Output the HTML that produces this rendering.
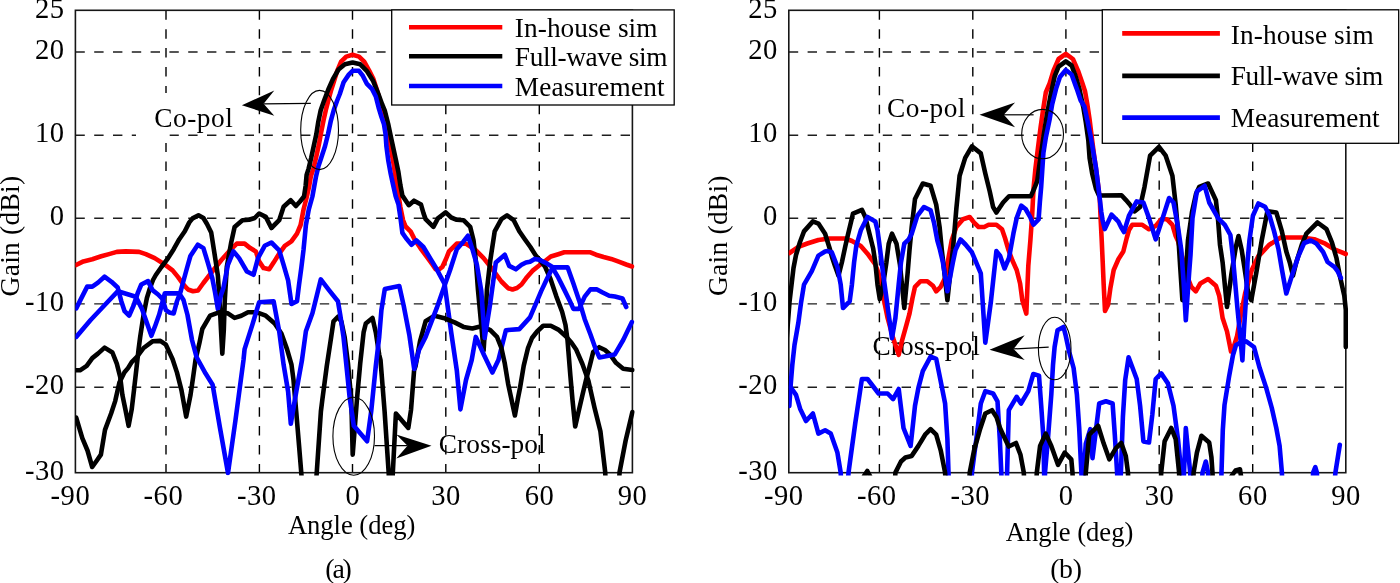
<!DOCTYPE html>
<html><head><meta charset="utf-8"><style>
html,body{margin:0;padding:0;background:#fff;width:1400px;height:583px;overflow:hidden}
svg{display:block;will-change:transform}
</style></head><body>
<svg width="1400" height="583" viewBox="0 0 1400 583" font-family="Liberation Serif, serif">
<style>
.g{stroke:#1e1e1e;stroke-width:1.4;stroke-dasharray:9.4 9.4;fill:none}
.gv{stroke:#000;stroke-width:1.4;stroke-dasharray:9.45 9.45;fill:none}
.f{stroke:#161616;stroke-width:1.6;fill:none}
.c{fill:none;stroke-width:4.6;stroke-linejoin:round;stroke-linecap:round}
.e{fill:none;stroke:#000;stroke-width:1.1}
text{fill:#000}
</style>
<defs><clipPath id="clipa"><rect x="75.4" y="10.3" width="559.3" height="465.2"/></clipPath>
<clipPath id="clipb"><rect x="788.8" y="10.3" width="559.3" height="465.2"/></clipPath></defs>
<rect width="1400" height="583" fill="#fff"/>
<!-- plot a -->
<line x1="166.0" y1="10.3" x2="166.0" y2="472.7" class="gv"/>
<line x1="259.4" y1="10.3" x2="259.4" y2="472.7" class="gv"/>
<line x1="352.5" y1="10.3" x2="352.5" y2="472.7" class="gv"/>
<line x1="445.8" y1="10.3" x2="445.8" y2="472.7" class="gv"/>
<line x1="539.3" y1="10.3" x2="539.3" y2="472.7" class="gv"/>
<line x1="75.4" y1="52.0" x2="632.4" y2="52.0" class="g"/>
<line x1="75.4" y1="135.2" x2="632.4" y2="135.2" class="g"/>
<line x1="75.4" y1="218.3" x2="632.4" y2="218.3" class="g"/>
<line x1="75.4" y1="303.9" x2="632.4" y2="303.9" class="g"/>
<line x1="75.4" y1="387.3" x2="632.4" y2="387.3" class="g"/>
<rect x="136" y="93" width="33.5" height="50" fill="#fff"/>
<text x="154.2" y="127.3" font-size="27.3" textLength="78.6" lengthAdjust="spacing" >Co-pol</text>
<rect x="75.4" y="10.3" width="557.0" height="462.4" class="f"/>
<g clip-path="url(#clipa)">
<polyline points="75.6,265.2 83.4,261.4 92.3,259.2 101.2,256.3 109.0,254.1 116.8,251.9 125.7,251.4 139.1,251.9 145.8,254.1 154.7,258.1 163.6,263.7 172.6,270.4 178.1,277.1 183.7,284.9 188.0,289.5 193.0,291.2 198.0,290.5 203.4,283.0 212.3,271.5 221.2,260.3 229.0,251.4 236.8,243.6 244.6,243.6 250.2,248.1 255.8,251.4 259.1,261.4 263.6,268.1 269.2,269.3 273.6,262.6 279.2,253.6 284.8,245.8 291.4,241.4 297.0,233.6 300.6,225.0 303.6,209.3 306.5,198.0 309.0,187.0 310.9,176.0 313.5,168.6 316.3,156.6 318.9,144.6 321.0,133.0 323.6,120.0 326.2,108.6 328.6,99.5 331.2,90.0 333.6,82.6 337.2,70.8 341.1,61.7 346.2,56.6 352.6,54.8 359.0,56.6 364.2,61.7 369.3,70.8 373.2,78.5 377.0,90.1 380.9,104.2 384.8,119.7 388.6,135.1 391.2,150.6 393.6,164.0 395.9,180.0 397.9,191.7 400.4,207.2 403.0,220.0 405.6,226.5 410.7,231.6 414.6,239.4 419.7,247.1 421.1,249.2 427.8,258.1 432.0,264.0 435.6,269.3 439.0,269.5 442.3,267.0 446.0,259.0 449.0,251.4 456.8,243.6 465.7,243.6 474.7,249.2 483.6,258.1 492.5,269.3 501.4,281.5 508.1,288.2 512.5,289.5 517.0,288.0 521.5,284.5 526.2,278.1 532.4,270.9 538.5,266.0 545.1,261.0 550.8,256.5 558.3,254.2 564.3,252.3 590.4,252.3 596.0,254.7 603.6,257.0 611.1,258.9 618.7,261.7 626.2,264.5 632.0,266.5" stroke="#ff0000" class="c"/>
<polyline points="75.5,370.3 80.0,370.3 86.7,365.9 92.3,358.1 97.9,353.6 104.6,347.6 112.4,352.5 116.8,363.6 120.2,377.0 122.4,395.0 125.5,410.0 128.6,425.8 131.7,409.4 134.0,390.0 136.5,368.0 138.5,350.0 140.2,336.9 143.6,314.6 146.9,298.0 150.0,288.0 153.0,280.0 155.8,275.0 161.4,267.0 168.1,258.1 173.7,249.2 179.3,239.2 184.8,231.3 189.3,222.4 192.6,218.4 198.5,215.3 203.4,218.0 207.0,224.0 211.2,232.5 214.5,253.6 217.9,275.9 219.5,300.0 221.0,330.0 222.3,353.6 223.8,330.0 224.8,300.0 226.0,280.0 226.8,267.0 231.2,242.5 234.6,226.9 242.4,220.2 249.1,219.8 254.7,218.0 259.1,213.5 265.8,216.9 271.4,228.0 279.2,220.2 283.6,206.8 290.7,200.3 295.9,206.0 300.0,201.5 304.0,196.5 305.6,186.0 306.6,175.0 308.6,168.6 311.1,158.3 313.7,146.3 316.3,134.3 318.2,122.3 320.7,110.3 324.3,100.0 328.3,89.5 333.0,79.0 338.5,69.5 344.9,64.3 352.6,62.5 360.3,64.3 366.7,70.8 373.2,81.1 378.3,93.9 382.2,104.5 384.7,110.3 388.2,124.0 390.7,136.0 393.3,148.0 395.9,160.0 398.4,172.0 400.4,185.3 402.4,195.6 408.8,205.2 414.0,200.7 421.0,204.6 423.6,213.6 425.6,219.1 433.4,226.9 437.9,218.4 445.7,212.4 451.2,217.5 456.8,219.8 463.5,220.2 470.2,226.9 473.5,240.3 475.8,260.3 478.0,290.0 480.8,320.0 483.6,350.5 485.5,320.0 486.9,290.0 490.3,260.3 494.7,231.3 501.4,219.1 507.0,215.3 513.7,220.2 519.3,231.3 524.8,239.2 530.4,247.0 536.0,255.9 540.0,260.0 545.0,266.5 550.5,279.0 556.4,296.6 562.1,311.7 565.5,325.0 567.5,340.0 570.4,376.0 572.5,400.0 575.2,426.4 578.5,412.0 582.4,395.2 586.0,380.0 589.6,366.4 593.2,352.0 599.2,347.2 605.0,350.0 610.0,354.4 616.0,362.8 623.2,368.8 632.4,370.0" stroke="#000000" class="c"/>
<polyline points="76.2,308.4 81.1,298.6 87.2,286.6 92.3,286.6 98.0,282.6 104.5,276.7 111.5,281.8 117.7,287.5 121.3,301.2 124.6,311.2 129.1,315.7 133.5,305.7 138.0,292.3 141.3,284.5 148.0,281.1 152.5,290.1 158.1,294.5 162.5,299.0 165.9,310.1 169.2,312.4 173.7,313.5 177.0,301.2 180.4,292.3 183.7,280.0 187.0,268.0 190.4,256.0 197.8,244.7 203.4,248.1 207.8,262.6 212.3,278.2 215.0,292.0 217.9,309.0 221.0,295.0 223.4,288.0 227.9,264.8 233.5,251.4 239.1,258.1 246.9,271.5 253.5,274.8 258.0,258.1 264.7,245.8 271.4,242.5 279.2,250.3 283.6,264.8 288.1,280.4 291.5,304.0 297.0,301.2 299.0,285.0 301.3,268.0 303.5,250.0 305.9,225.0 308.8,209.3 312.4,196.5 315.9,177.0 318.5,166.0 321.5,157.0 325.0,146.3 328.0,134.3 330.9,120.6 333.8,110.0 337.0,101.0 339.8,94.0 343.6,82.3 348.8,74.6 352.6,70.8 359.0,70.8 362.9,75.9 366.7,83.6 371.9,88.8 375.8,96.5 378.6,107.5 381.5,117.0 383.9,124.0 385.6,134.3 386.4,146.3 388.2,160.0 390.7,173.8 393.3,185.8 395.6,196.0 398.5,204.6 400.4,217.5 402.4,232.9 405.9,238.0 411.5,244.7 416.4,240.3 423.4,247.0 430.1,258.1 436.8,269.3 444.6,284.0 451.2,332.4 456.8,370.3 460.4,409.4 466.0,380.0 471.7,360.0 475.8,336.9 484.0,355.0 492.4,372.5 498.4,360.0 505.9,330.2 519.3,329.1 530.0,317.4 535.7,304.2 541.3,290.9 547.0,278.7 552.6,267.4 567.7,267.4 573.4,283.4 579.1,300.4 584.7,319.2 590.4,334.3 596.0,350.0 599.5,357.5 614.8,354.4 623.2,340.0 631.9,322.1" stroke="#0000ff" class="c"/>
<polyline points="76.2,417.6 82.3,438.2 87.5,450.5 92.2,467.0 96.5,461.0 100.9,454.6 105.0,429.9 111.1,413.5 115.2,401.1 119.4,382.6 124.5,372.3 128.0,368.1 131.7,362.1 136.9,357.0 143.6,348.0 152.5,341.3 160.3,340.9 165.9,344.7 172.6,359.2 177.0,372.6 181.5,390.4 186.2,416.6 190.5,395.0 193.0,378.0 195.5,360.0 199.3,343.6 202.3,329.0 210.1,315.7 219.0,312.3 227.9,313.4 234.6,317.9 241.3,315.7 248.0,312.3 256.9,312.3 265.8,315.7 274.7,323.5 281.4,333.5 287.0,349.1 291.5,364.7 293.5,380.0 296.2,411.4 299.0,445.0 301.3,473.1 302.5,490.0 315.5,490.0 316.7,473.1 320.9,411.4 322.3,400.0 326.8,365.9 331.2,336.9 333.5,321.3 337.9,316.8 341.3,321.3 344.6,336.9 348.0,363.6 351.3,400.0 352.7,454.6 356.9,400.0 360.2,363.6 363.6,332.4 365.8,323.5 372.5,317.9 375.8,332.4 379.2,354.7 380.5,360.0 384.6,411.4 388.7,473.1 389.5,490.0 392.0,490.0 392.8,473.1 395.9,413.5 408.3,427.9 411.0,410.0 414.1,370.3 415.6,365.9 420.0,341.3 425.6,321.3 434.5,315.7 443.4,317.9 454.6,322.4 463.5,326.9 472.4,328.4 481.3,326.2 490.3,330.2 497.0,336.9 501.4,348.0 504.8,363.6 508.1,383.7 514.9,415.5 518.0,398.0 520.0,388.0 523.7,365.9 528.0,348.0 532.0,338.0 537.1,331.5 543.2,325.8 550.8,325.8 558.3,329.6 565.8,336.2 571.5,342.8 576.3,349.8 582.4,364.0 588.4,380.8 594.4,407.2 600.4,431.2 605.2,472.0 606.0,490.0 618.5,490.0 619.6,472.0 625.6,440.8 632.4,412.0" stroke="#000000" class="c"/>
<polyline points="76.2,336.9 90.6,320.0 104.3,305.5 117.9,291.2 135.8,296.8 142.0,308.9 151.4,335.8 155.5,325.0 159.2,314.6 164.8,293.4 179.3,293.4 183.5,300.0 187.5,315.0 192.0,340.0 196.5,357.0 205.6,373.6 212.6,384.7 220.0,428.0 228.0,473.0 235.5,420.0 243.5,360.0 244.6,349.1 252.4,324.6 259.1,302.3 273.6,301.2 279.2,331.3 283.6,364.7 288.1,391.5 290.8,423.8 296.2,392.0 302.0,360.0 305.9,331.3 312.5,313.0 320.8,279.4 329.0,290.1 337.9,301.2 340.2,314.6 343.5,336.9 346.9,370.3 349.6,397.0 353.8,425.8 367.1,441.2 371.2,411.4 375.8,365.9 379.2,336.9 381.4,310.1 384.8,289.0 399.3,286.1 403.7,305.7 409.3,334.7 414.2,369.0 419.0,350.0 425.6,336.9 436.8,307.9 444.6,285.6 450.1,270.0 456.8,249.2 463.5,241.4 468.0,235.8 472.4,249.2 476.9,264.8 481.3,291.0 484.7,338.0 490.0,305.0 495.8,262.6 504.8,254.8 509.2,265.9 515.9,269.3 521.5,264.8 526.0,262.5 530.0,261.7 534.7,258.9 539.4,259.8 545.1,262.6 551.7,266.4 558.3,277.7 564.0,289.1 569.6,300.4 573.4,308.9 579.1,308.9 584.7,296.6 590.4,289.4 597.0,289.4 602.6,292.5 609.2,295.7 614.9,296.6 622.5,298.5 626.2,307.0" stroke="#0000ff" class="c"/>
</g>
<ellipse cx="319.6" cy="130" rx="18.9" ry="39.6" class="e"/>
<line x1="263.6" y1="103.8" x2="310.8" y2="103.4" stroke="#000" stroke-width="1.2"/><polygon points="241.9,105.3 274.3,90.4 263.6,103.8 274.3,115.7" fill="#000"/>
<ellipse cx="353.7" cy="436.2" rx="20.8" ry="39.0" class="e"/>
<line x1="407.5" y1="445.7" x2="374.5" y2="445.7" stroke="#000" stroke-width="1.2"/><polygon points="431.5,445.7 396.3,434.5 407.5,445.7 396.3,458.6" fill="#000"/>
<text x="438.7" y="452.7" font-size="27.3" textLength="107.0" lengthAdjust="spacing" >Cross-pol</text>
<rect x="391.7" y="9.9" width="282.5" height="95.1" fill="#fff" stroke="#000" stroke-width="1.3"/>
<line x1="409" y1="27.3" x2="502.3" y2="27.3" stroke="#ff0000" stroke-width="4.6"/>
<text x="514.8" y="37.2" font-size="27.3" textLength="142.7" lengthAdjust="spacing" >In-house sim</text>
<line x1="409" y1="56.3" x2="502.3" y2="56.3" stroke="#000" stroke-width="4.6"/>
<text x="514.8" y="66.3" font-size="27.3" textLength="152.8" lengthAdjust="spacing" >Full-wave sim</text>
<line x1="409" y1="86.0" x2="502.3" y2="86.0" stroke="#0000ff" stroke-width="4.6"/>
<text x="514.8" y="95.7" font-size="27.3" textLength="149.7" lengthAdjust="spacing" >Measurement</text>
<text x="64.5" y="18.0" font-size="28.6" text-anchor="end" letter-spacing="0.5" >25</text>
<text x="64.5" y="58.8" font-size="28.6" text-anchor="end" letter-spacing="0.5" >20</text>
<text x="64.5" y="142.0" font-size="28.6" text-anchor="end" letter-spacing="0.5" >10</text>
<text x="64.5" y="225.1" font-size="28.6" text-anchor="end" letter-spacing="0.5" >0</text>
<text x="64.5" y="310.7" font-size="28.6" text-anchor="end" letter-spacing="0.5" >-10</text>
<text x="64.5" y="394.1" font-size="28.6" text-anchor="end" letter-spacing="0.5" >-20</text>
<text x="64.5" y="479.5" font-size="28.6" text-anchor="end" letter-spacing="0.5" >-30</text>
<text x="70.4" y="504.5" font-size="28.6" text-anchor="middle" letter-spacing="0.5" >-90</text>
<text x="163.4" y="504.5" font-size="28.6" text-anchor="middle" letter-spacing="0.5" >-60</text>
<text x="256.8" y="504.5" font-size="28.6" text-anchor="middle" letter-spacing="0.5" >-30</text>
<text x="352.8" y="504.5" font-size="28.6" text-anchor="middle" letter-spacing="0.5" >0</text>
<text x="446.1" y="504.5" font-size="28.6" text-anchor="middle" letter-spacing="0.5" >30</text>
<text x="539.5" y="504.5" font-size="28.6" text-anchor="middle" letter-spacing="0.5" >60</text>
<text x="632.6" y="504.5" font-size="28.6" text-anchor="middle" letter-spacing="0.5" >90</text>
<text x="287.9" y="534.0" font-size="26.6" textLength="127.4" lengthAdjust="spacing" >Angle (deg)</text>
<text x="325.3" y="577.6" font-size="27.8" textLength="26.5" lengthAdjust="spacing" >(a)</text>
<text transform="translate(18.8,296.4) rotate(-90)" font-size="27.5" textLength="120.5" lengthAdjust="spacing">Gain (dBi)</text>
<!-- plot b -->
<line x1="879.4" y1="10.3" x2="879.4" y2="472.7" class="gv"/>
<line x1="972.8" y1="10.3" x2="972.8" y2="472.7" class="gv"/>
<line x1="1065.9" y1="10.3" x2="1065.9" y2="472.7" class="gv"/>
<line x1="1159.2" y1="10.3" x2="1159.2" y2="472.7" class="gv"/>
<line x1="1252.7" y1="10.3" x2="1252.7" y2="472.7" class="gv"/>
<line x1="788.8" y1="52.0" x2="1345.8" y2="52.0" class="g"/>
<line x1="788.8" y1="135.2" x2="1345.8" y2="135.2" class="g"/>
<line x1="788.8" y1="218.3" x2="1345.8" y2="218.3" class="g"/>
<line x1="788.8" y1="303.9" x2="1345.8" y2="303.9" class="g"/>
<line x1="788.8" y1="387.3" x2="1345.8" y2="387.3" class="g"/>
<text x="887.0" y="117.2" font-size="27.3" textLength="78.4" lengthAdjust="spacing" >Co-pol</text>
<text x="872.4" y="354.7" font-size="27.3" textLength="107.5" lengthAdjust="spacing" >Cross-pol</text>
<rect x="788.8" y="10.3" width="557.0" height="462.4" class="f"/>
<g clip-path="url(#clipb)">
<polyline points="789.5,253.0 798.4,246.8 807.3,243.5 818.4,240.0 829.6,238.5 845.2,238.5 852.0,241.0 860.8,246.0 867.5,253.7 872.0,260.0 875.3,264.5 878.6,273.4 883.1,295.7 887.6,318.0 893.1,338.1 898.7,354.8 902.1,340.3 906.5,324.7 909.5,313.6 912.5,298.0 915.0,286.8 920.6,281.2 927.3,281.2 932.9,285.7 936.2,291.3 940.7,286.8 945.1,277.9 948.5,257.8 951.8,240.0 956.3,227.0 963.0,219.2 969.7,217.0 974.1,222.6 978.6,227.0 984.2,227.0 988.6,224.8 996.4,224.8 1002.0,229.3 1005.0,238.0 1008.5,250.0 1012.3,260.3 1016.7,270.0 1020.1,283.5 1022.3,300.0 1026.3,313.6 1027.3,290.0 1028.3,265.9 1030.4,240.1 1032.2,214.4 1033.5,188.6 1035.5,168.0 1038.0,147.9 1040.6,127.3 1043.2,109.2 1045.8,92.5 1049.6,83.5 1053.5,70.6 1058.6,59.0 1065.8,53.9 1072.9,59.0 1078.0,70.6 1082.5,83.5 1085.0,91.2 1087.3,104.1 1089.6,119.5 1091.8,137.6 1093.8,153.0 1096.3,171.0 1098.6,189.1 1099.8,200.0 1100.7,220.0 1101.7,240.0 1102.7,262.0 1103.7,285.0 1105.0,311.0 1108.1,304.7 1110.4,288.0 1113.7,270.0 1118.5,259.0 1123.3,251.5 1126.7,238.0 1129.0,230.0 1132.3,224.8 1142.3,224.8 1149.0,229.3 1155.7,225.9 1161.2,219.2 1166.8,219.2 1172.4,224.8 1175.7,236.0 1178.0,241.0 1182.4,257.8 1186.9,275.7 1191.3,286.8 1195.8,291.3 1200.3,283.5 1208.1,279.0 1215.9,285.7 1219.2,295.7 1222.6,318.0 1227.0,331.4 1231.0,351.5 1233.7,347.0 1237.1,335.9 1241.0,314.0 1245.1,293.5 1251.8,270.0 1258.4,256.0 1260.7,254.0 1269.0,245.0 1280.7,237.5 1301.9,237.5 1314.2,239.2 1325.3,243.7 1334.3,249.3 1345.8,254.0" stroke="#ff0000" class="c"/>
<polyline points="786.0,347.0 789.5,302.0 791.5,285.0 793.5,268.0 796.0,255.0 800.0,242.0 804.0,231.4 812.9,221.4 818.4,223.6 825.1,233.7 829.6,248.2 832.0,257.0 835.0,266.0 838.5,275.7 841.9,262.3 845.2,246.7 847.4,237.0 853.0,213.6 861.9,209.8 865.3,217.0 868.6,230.3 873.1,248.2 875.3,262.3 877.5,284.6 879.8,299.1 883.1,284.6 886.4,262.3 888.7,243.7 892.0,233.7 896.5,243.7 900.0,265.0 904.3,308.0 907.6,273.4 909.5,250.0 911.7,227.0 915.0,199.0 922.8,183.5 930.6,185.8 936.2,204.7 939.6,227.0 941.8,250.0 944.0,269.0 947.4,300.2 950.7,269.0 952.9,250.0 956.3,209.2 959.6,175.7 965.2,157.9 971.9,146.3 980.8,153.4 985.3,173.5 989.7,191.3 993.1,207.0 996.4,212.5 1003.1,202.5 1009.0,196.2 1030.9,196.2 1034.5,188.0 1037.3,180.9 1039.3,165.9 1041.9,147.9 1044.5,129.8 1047.0,114.4 1050.9,93.8 1054.8,75.8 1058.6,66.7 1065.8,61.4 1071.6,65.5 1075.5,75.8 1079.3,88.6 1083.2,106.7 1085.8,122.1 1088.3,140.1 1089.6,158.2 1092.2,173.6 1096.1,189.1 1099.0,195.5 1121.5,195.2 1126.0,200.1 1130.0,204.7 1134.5,211.4 1140.1,207.0 1144.5,186.9 1150.1,155.7 1159.0,146.8 1165.7,155.7 1172.4,175.7 1175.7,204.7 1178.0,231.5 1180.2,266.8 1182.4,300.2 1185.8,273.4 1188.0,240.0 1192.0,212.0 1196.0,194.0 1199.2,186.9 1208.1,183.5 1215.9,200.3 1218.1,220.3 1220.0,245.0 1222.6,262.3 1227.0,306.9 1231.5,273.4 1235.9,246.7 1238.5,236.0 1241.7,250.0 1244.5,268.0 1248.5,295.0 1251.3,300.2 1256.2,273.4 1261.8,240.0 1267.4,211.3 1276.3,212.5 1281.9,231.4 1286.3,251.5 1289.7,262.3 1293.0,275.7 1296.3,262.3 1301.9,244.5 1306.4,233.6 1317.5,222.5 1326.5,229.2 1332.0,242.6 1336.5,258.2 1339.8,275.7 1344.3,295.7 1345.8,310.0 1345.8,347.0" stroke="#000000" class="c"/>
<polyline points="789.3,406.0 790.5,387.0 792.3,365.0 794.5,345.0 798.4,322.5 801.0,303.0 804.0,284.6 811.8,271.2 818.4,255.6 825.1,251.5 827.4,251.1 831.8,252.3 837.4,266.8 840.7,284.6 843.0,308.0 849.7,301.3 851.9,284.6 854.1,262.3 856.3,245.9 860.8,230.3 867.5,217.0 875.3,221.4 877.5,230.3 879.5,245.0 883.1,273.4 887.6,306.9 892.0,338.1 895.4,318.0 898.7,284.6 901.0,262.3 904.3,243.7 908.7,239.3 911.7,233.7 917.3,215.9 924.0,207.0 930.6,210.3 934.0,222.6 937.3,240.4 940.0,250.0 942.9,262.3 947.4,291.3 952.9,262.3 955.5,250.0 960.5,239.5 965.5,244.5 971.9,252.3 980.8,273.4 985.3,342.6 990.8,302.4 996.4,251.1 1000.0,255.6 1004.5,268.5 1009.0,258.0 1013.4,233.6 1016.7,218.0 1021.2,205.7 1025.6,209.0 1030.1,216.9 1033.5,224.7 1038.6,219.5 1039.9,201.5 1041.2,186.5 1042.2,171.0 1043.4,153.0 1045.8,137.6 1049.6,119.5 1052.2,104.1 1056.1,88.6 1059.9,77.0 1065.8,70.0 1071.6,74.5 1076.7,88.6 1080.6,100.2 1084.5,106.7 1088.3,124.7 1090.9,137.6 1093.5,153.0 1096.1,168.5 1098.6,189.1 1099.9,200.0 1101.3,212.0 1102.6,220.2 1104.8,229.1 1111.5,214.6 1118.2,221.3 1121.0,227.0 1124.0,232.0 1128.9,215.9 1136.7,201.4 1143.4,202.5 1149.0,218.1 1155.7,239.3 1161.2,222.6 1169.1,198.0 1173.5,202.5 1178.0,227.0 1181.3,250.0 1183.5,280.0 1185.8,320.3 1189.1,273.4 1190.5,255.0 1192.5,218.1 1196.9,191.3 1204.7,185.8 1209.2,202.5 1218.1,218.1 1224.8,224.8 1230.4,235.0 1232.8,255.9 1234.5,275.0 1237.3,306.9 1240.6,340.3 1242.4,360.4 1244.0,329.2 1246.2,295.7 1247.5,262.0 1249.5,240.0 1252.9,215.8 1258.4,203.5 1265.1,206.9 1269.6,215.8 1274.1,231.4 1278.5,249.3 1282.0,270.0 1286.3,293.5 1291.9,275.7 1298.6,255.6 1304.2,243.0 1310.8,240.5 1316.4,243.5 1323.1,252.0 1327.6,262.0 1334.3,266.8 1337.6,271.2 1340.9,277.9" stroke="#0000ff" class="c"/>
<polyline points="790.5,387.0 796.0,394.9 800.1,408.7 806.0,421.0 812.9,413.5 818.4,433.6 825.1,430.3 830.7,433.6 837.4,452.6 840.7,472.6 841.5,490.0 847.5,490.0 848.5,472.6 855.2,423.6 861.9,379.0 867.5,379.0 878.6,393.5 887.6,393.5 893.1,399.1 898.7,389.0 903.5,428.0 910.6,445.9 915.0,405.7 918.4,387.9 922.8,371.2 930.6,356.7 936.2,358.9 940.7,381.2 945.1,403.5 947.4,439.2 948.5,472.6 949.0,490.0 971.5,490.0 971.9,472.6 976.3,439.2 980.8,403.5 985.3,391.2 993.1,393.5 997.5,401.3 999.8,439.2 1001.3,472.6 1002.0,490.0 1006.5,490.0 1007.1,472.6 1008.8,410.2 1016.6,396.8 1021.0,403.5 1028.3,391.2 1033.3,374.0 1039.0,375.6 1041.2,405.7 1043.5,439.2 1044.1,472.6 1044.5,490.0 1045.0,472.6 1047.9,439.2 1051.3,394.6 1053.0,365.0 1054.6,347.0 1057.5,330.3 1063.5,327.0 1065.8,335.9 1069.1,351.5 1073.6,368.0 1076.9,394.6 1079.2,428.0 1081.4,472.6 1082.0,490.0 1083.0,490.0 1083.6,472.6 1085.8,443.6 1090.3,429.2 1092.5,458.1 1099.2,403.5 1105.9,401.3 1112.6,403.5 1114.8,434.7 1117.1,472.6 1118.0,490.0 1120.0,490.0 1120.9,472.6 1122.9,416.9 1125.2,380.0 1128.6,357.2 1136.7,379.0 1140.1,405.7 1143.4,441.4 1149.0,442.5 1152.3,414.7 1155.7,379.0 1161.2,373.4 1167.9,383.4 1173.5,405.7 1178.0,439.2 1180.2,461.5 1182.0,472.6 1183.0,490.0 1184.0,472.6 1185.8,428.0 1188.0,450.3 1190.2,472.6 1191.0,490.0" stroke="#0000ff" class="c"/>
<polyline points="1201.5,490.0 1202.5,472.6 1205.8,461.5 1208.1,472.6 1209.0,490.0" stroke="#0000ff" class="c"/>
<polyline points="1221.0,490.0 1221.5,472.6 1222.8,430.0 1224.5,405.0 1229.0,377.0 1233.0,355.0 1236.0,345.0 1240.6,342.6 1246.2,341.4 1254.0,347.0 1259.6,367.8 1266.2,387.9 1271.8,408.0 1276.3,428.0 1279.6,445.9 1281.9,472.6 1282.5,490.0" stroke="#0000ff" class="c"/>
<polyline points="1312.5,490.0 1313.1,472.6 1315.3,467.1 1316.9,472.6 1317.5,490.0" stroke="#0000ff" class="c"/>
<polyline points="1334.0,490.0 1335.4,472.6 1339.8,444.8" stroke="#0000ff" class="c"/>
<polyline points="894.5,490.0 895.4,472.6 901.0,461.5 905.4,457.5 911.7,455.9 918.4,445.9 925.1,434.7 930.6,429.2 936.2,434.7 940.7,450.3 945.1,472.6 946.0,490.0" stroke="#000000" class="c"/>
<polyline points="969.0,490.0 969.7,472.6 974.1,450.3 979.7,430.3 985.3,413.5 992.0,410.2 996.4,416.9 1000.0,428.0 1003.1,434.7 1008.7,446.5 1016.0,443.0 1020.5,454.8 1023.8,472.6 1024.5,490.0" stroke="#000000" class="c"/>
<polyline points="1036.0,490.0 1036.8,472.6 1040.1,445.9 1045.7,433.6 1051.3,445.9 1058.0,464.8 1064.7,452.6 1071.3,459.3 1072.5,472.6 1073.0,490.0" stroke="#000000" class="c"/>
<polyline points="1085.0,490.0 1085.8,472.6 1089.2,434.7 1098.1,425.8 1103.7,443.6 1109.3,459.3 1115.9,448.1 1121.3,443.0 1125.8,456.0 1128.0,472.6 1128.5,490.0" stroke="#000000" class="c"/>
<polyline points="1160.5,490.0 1161.2,472.6 1164.6,441.4 1171.3,428.0 1175.7,439.2 1179.1,472.6 1179.5,490.0" stroke="#000000" class="c"/>
<polyline points="1193.0,490.0 1193.6,472.6 1196.9,452.6 1201.4,435.8 1209.2,442.5 1211.4,457.0 1212.5,472.6 1213.0,490.0" stroke="#000000" class="c"/>
<polyline points="1231.5,476.0 1235.5,470.5 1240.0,469.3 1241.0,476.0" stroke="#000000" class="c"/>
<polyline points="864.0,476.0 867.3,471.0 870.0,476.0" stroke="#000000" class="c"/>
</g>
<ellipse cx="1042.6" cy="134.1" rx="20.9" ry="24.7" class="e"/>
<line x1="1003.8" y1="114.8" x2="1033.6" y2="114.8" stroke="#000" stroke-width="1.2"/><polygon points="979.5,114.8 1015.1,102.6 1003.8,114.8 1015.1,127.3" fill="#000"/>
<ellipse cx="1054.7" cy="348.5" rx="16.3" ry="31.3" class="e"/>
<line x1="1013.5" y1="348.9" x2="1048.7" y2="347.2" stroke="#000" stroke-width="1.2"/><polygon points="989.5,349.7 1024.7,335.2 1013.5,348.9 1024.7,360.0" fill="#000"/>
<rect x="1102.3" y="9.8" width="296.4" height="133.5" fill="#fff" stroke="#000" stroke-width="1.3"/>
<line x1="1122.2" y1="33.4" x2="1219.9" y2="33.4" stroke="#ff0000" stroke-width="4.6"/>
<text x="1230.8" y="43.8" font-size="27.3" textLength="142.9" lengthAdjust="spacing" >In-house sim</text>
<line x1="1122.2" y1="75.9" x2="1219.9" y2="75.9" stroke="#000" stroke-width="4.6"/>
<text x="1230.8" y="85.2" font-size="27.3" textLength="152.4" lengthAdjust="spacing" >Full-wave sim</text>
<line x1="1122.2" y1="117.6" x2="1219.9" y2="117.6" stroke="#0000ff" stroke-width="4.6"/>
<text x="1230.8" y="127.0" font-size="27.3" textLength="148.9" lengthAdjust="spacing" >Measurement</text>
<text x="777.9" y="18.0" font-size="28.6" text-anchor="end" letter-spacing="0.5" >25</text>
<text x="777.9" y="58.8" font-size="28.6" text-anchor="end" letter-spacing="0.5" >20</text>
<text x="777.9" y="142.0" font-size="28.6" text-anchor="end" letter-spacing="0.5" >10</text>
<text x="777.9" y="225.1" font-size="28.6" text-anchor="end" letter-spacing="0.5" >0</text>
<text x="777.9" y="310.7" font-size="28.6" text-anchor="end" letter-spacing="0.5" >-10</text>
<text x="777.9" y="394.1" font-size="28.6" text-anchor="end" letter-spacing="0.5" >-20</text>
<text x="777.9" y="479.5" font-size="28.6" text-anchor="end" letter-spacing="0.5" >-30</text>
<text x="783.8" y="504.5" font-size="28.6" text-anchor="middle" letter-spacing="0.5" >-90</text>
<text x="876.8" y="504.5" font-size="28.6" text-anchor="middle" letter-spacing="0.5" >-60</text>
<text x="970.2" y="504.5" font-size="28.6" text-anchor="middle" letter-spacing="0.5" >-30</text>
<text x="1066.2" y="504.5" font-size="28.6" text-anchor="middle" letter-spacing="0.5" >0</text>
<text x="1159.5" y="504.5" font-size="28.6" text-anchor="middle" letter-spacing="0.5" >30</text>
<text x="1252.9" y="504.5" font-size="28.6" text-anchor="middle" letter-spacing="0.5" >60</text>
<text x="1346.0" y="504.5" font-size="28.6" text-anchor="middle" letter-spacing="0.5" >90</text>
<text x="1005.7" y="540.5" font-size="26.6" textLength="127.6" lengthAdjust="spacing" >Angle (deg)</text>
<text x="1050.2" y="578.3" font-size="27.8" textLength="31.7" lengthAdjust="spacing" >(b)</text>
<text transform="translate(727.2,296.0) rotate(-90)" font-size="27.5" textLength="120.5" lengthAdjust="spacing">Gain (dBi)</text>
</svg>
</body></html>
